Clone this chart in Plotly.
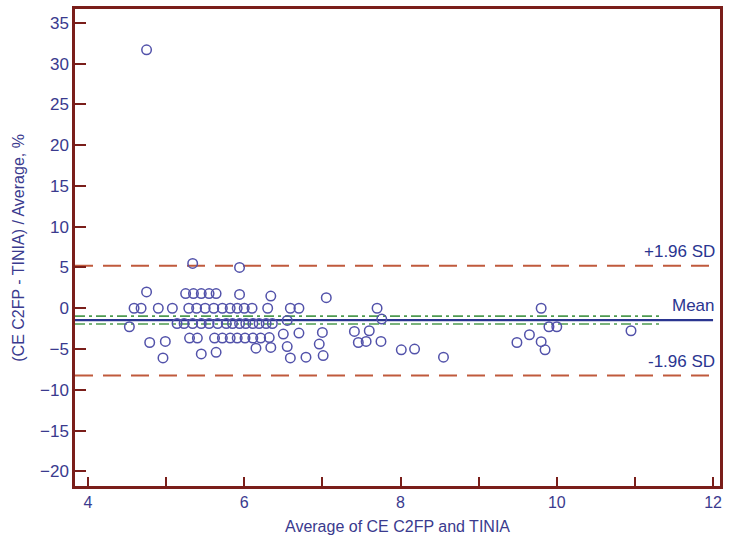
import plotly.graph_objects as go

# Bland-Altman data: mean of the two methods (x) vs relative difference in % (y)
avg_values = [
    4.75,
    5.34, 5.94,
    4.75, 5.25, 5.35, 5.45, 5.55, 5.64, 5.94, 6.34, 7.05,
    4.59, 4.68, 4.90, 5.08, 5.29, 5.39, 5.50, 5.61, 5.72, 5.82, 5.91, 6.00,
    6.10, 6.30, 6.59, 6.70, 7.70, 9.80,
    4.53, 5.14, 5.23, 5.34, 5.45, 5.55, 5.66, 5.77, 5.85, 5.94, 6.02, 6.11,
    6.19, 6.28, 6.36, 6.55, 7.76, 9.90, 10.00, 10.95,
    5.30, 5.40, 5.62, 5.72, 5.82, 5.91, 6.01, 6.11, 6.21, 6.32, 6.50, 6.70,
    7.00, 7.41, 7.60, 9.65,
    4.79, 4.99, 6.96, 7.46, 7.56, 7.75, 9.49, 9.80,
    6.15, 6.34, 6.55, 8.01, 8.18, 9.85,
    5.45, 5.64, 7.01,
    4.96, 6.59, 6.79, 8.55,
]
diff_pct = [
    31.7,
    5.5, 5.0,
    2.0, 1.8, 1.8, 1.8, 1.8, 1.8, 1.7, 1.5, 1.3,
    0.0, 0.0, 0.0, 0.0, 0.0, 0.0, 0.0, 0.0, 0.0, 0.0, 0.0, 0.0,
    0.0, 0.0, 0.0, 0.0, 0.0, 0.0,
    -2.27, -1.87, -1.87, -1.87, -1.87, -1.87, -1.87, -1.87, -1.87, -1.87, -1.87, -1.87,
    -1.87, -1.87, -1.87, -1.5, -1.33, -2.27, -2.27, -2.76,
    -3.66, -3.66, -3.66, -3.66, -3.66, -3.66, -3.66, -3.66, -3.66, -3.6, -3.17, -3.05,
    -2.97, -2.85, -2.76, -3.25,
    -4.2, -4.07, -4.4, -4.2, -4.07, -4.07, -4.2, -4.1,
    -4.9, -4.8, -4.7, -5.1, -5.0, -5.1,
    -5.6, -5.4, -5.8,
    -6.1, -6.1, -6.0, -6.0,
]

# Reference lines
mean_diff = -1.46
mean_ci = [-0.97, -1.94]
loa_upper = 5.2
loa_lower = -8.26
line_x = [3.834, 12.0]
ci_x = [3.834, 11.35]

x_ticks = [4, 5, 6, 7, 8, 9, 10, 11, 12]
x_ticktext = ["4", "", "6", "", "8", "", "10", "", "12"]
y_ticks = [35, 30, 25, 20, 15, 10, 5, 0, -5, -10, -15, -20]

frame_color = "#7a1e1a"
text_color = "#3a3a8e"
loa_color = "#c05a3c"
ci_color = "#4e9a50"
mean_color = "#2a3590"
marker_color = "#5252aa"
font_family = "Arial, Liberation Sans, sans-serif"

fig = go.Figure()

for yv in (loa_upper, loa_lower):
    fig.add_trace(go.Scatter(x=line_x, y=[yv, yv], mode="lines",
                             line=dict(color=loa_color, width=2, dash="18px,10px"),
                             hoverinfo="skip", showlegend=False))
for yv in mean_ci:
    fig.add_trace(go.Scatter(x=ci_x, y=[yv, yv], mode="lines",
                             line=dict(color=ci_color, width=1.6, dash="10px,4px,3px,4px"),
                             hoverinfo="skip", showlegend=False))
fig.add_trace(go.Scatter(x=line_x, y=[mean_diff, mean_diff], mode="lines",
                         line=dict(color=mean_color, width=2.2),
                         hoverinfo="skip", showlegend=False))

fig.add_trace(go.Scatter(
    x=avg_values, y=diff_pct, mode="markers",
    marker=dict(symbol="circle-open", size=9.5, color=marker_color,
                line=dict(width=1.5, color=marker_color)),
    showlegend=False,
))

line_labels = [("+1.96 SD", loa_upper), ("Mean", mean_diff), ("-1.96 SD", loa_lower)]
for label, yv in line_labels:
    fig.add_annotation(x=12.0, y=yv, xref="x", yref="y", text=label,
                       showarrow=False, xanchor="right", yanchor="bottom",
                       yshift=3, xshift=4,
                       font=dict(family=font_family, size=17, color=mean_color))

fig.add_annotation(x=-0.088, y=0.5, xref="paper", yref="paper",
                   text="(CE C2FP - TINIA) / Average, %", textangle=-90,
                   showarrow=False, xanchor="center", yanchor="middle",
                   font=dict(family=font_family, size=16, color=text_color))
fig.add_annotation(x=0.5, y=-0.0856, xref="paper", yref="paper",
                   text="Average of CE C2FP and TINIA",
                   showarrow=False, xanchor="center", yanchor="middle",
                   font=dict(family=font_family, size=16, color=text_color))

fig.update_xaxes(range=[3.834, 12.089], tickmode="array", tickvals=x_ticks,
                 ticktext=x_ticktext, ticks="inside", ticklen=9, tickwidth=2,
                 tickcolor=frame_color, showline=True, linecolor=frame_color,
                 linewidth=2.5, mirror=True, showgrid=False, zeroline=False,
                 tickfont=dict(family=font_family, size=16, color=text_color))
fig.update_yaxes(range=[-21.8, 36.7], tickmode="array", tickvals=y_ticks,
                 ticks="inside", ticklen=11, tickwidth=2, tickcolor=frame_color,
                 showline=True, linecolor=frame_color, linewidth=2.5, mirror=True,
                 showgrid=False, zeroline=False,
                 tickfont=dict(family=font_family, size=17, color=text_color))

fig.update_layout(width=729, height=542,
                  margin=dict(l=75, r=6, t=7, b=56),
                  plot_bgcolor="white", paper_bgcolor="white")

fig.write_html("out.html")
